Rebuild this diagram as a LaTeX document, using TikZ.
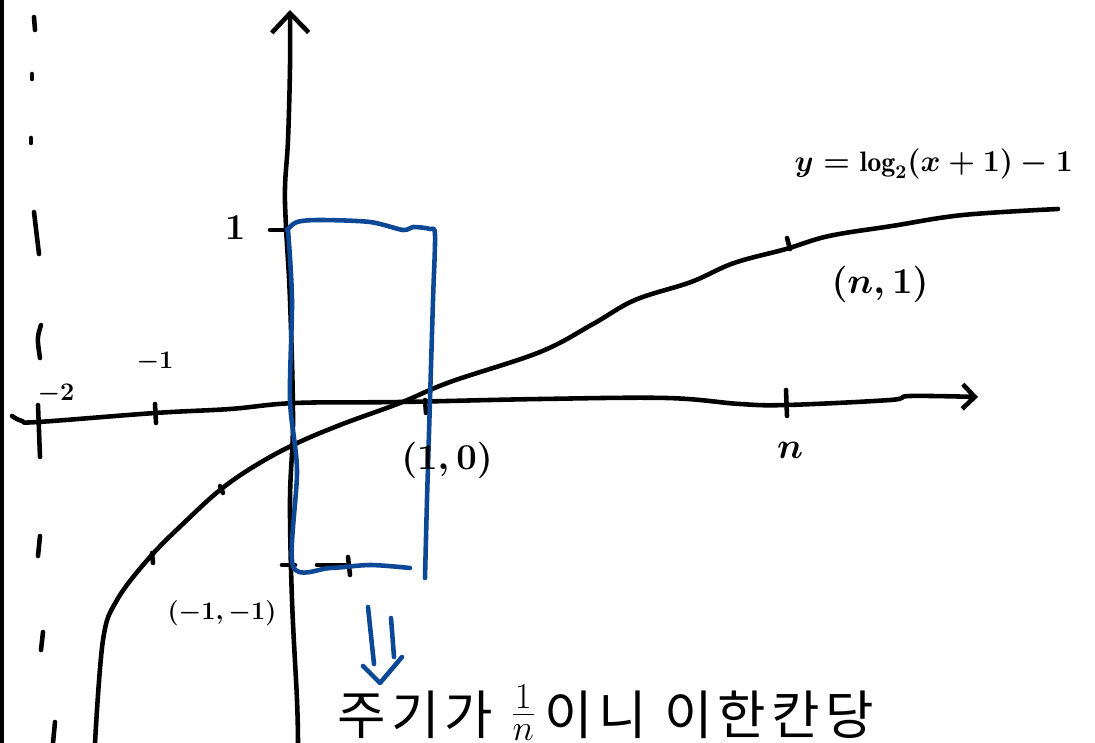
\documentclass[tikz,border=0pt]{standalone}
\usepackage{fontspec}
\newfontfamily\hangul[LetterSpace=10]{Noto Sans CJK KR}
\usetikzlibrary{arrows.meta,positioning}
\definecolor{penblue}{HTML}{0C4896}

\begin{document}
\begin{tikzpicture}[
  x=0.02cm, y=-0.02cm,
  pen/.style={line width=2.6pt, line cap=round, line join=round},
  bluepen/.style={pen, draw=penblue},
  lbl/.style={inner sep=1pt, font=\fontsize{20}{24}\selectfont\boldmath},
  small/.style={inner sep=1pt, font=\fontsize{14}{16}\selectfont\boldmath},
  xarr/.style={pen, -{Straight Barb[length=7pt, width=14pt, line width=2.6pt]}},
  yarr/.style={pen, -{Straight Barb[length=11pt, width=21pt, line width=2.6pt]}}
]
\useasboundingbox (0,0) rectangle (1095,743);
\draw[line width=3pt] (1.5,0) -- (1.5,743);

\draw[pen] (34,17) -- (35,30);
\draw[pen] (32,74) -- (32,79);
\draw[pen] (31,138) -- (31,143);
\draw[pen] (34,212) -- (39,254);
\draw[pen] (41,325) .. controls (37,338) .. (40,358);
\draw[pen] (40,536) -- (38,556);
\draw[pen] (43,632) -- (41,650);
\draw[pen] (55,722) -- (53,743);

\draw[xarr] plot[smooth, tension=0.6] coordinates {(12,416) (22,421) (38,422) (155,413) (230,409) (295,403) (400,402) (540,399) (667,398) (740,404) (787,405) (890,400) (910,396) (978,397)};
\draw[yarr] plot[smooth, tension=0.6] coordinates {(298,743) (297,700) (292,600) (290,500) (293,420) (290,300) (286,227) (285,187) (288,140) (290,67) (290,10)};

\draw[pen] (38,405) -- (40,457);
\draw[pen] (155,404) -- (156,423);
\draw[pen] (425,400) -- (426,413);
\draw[pen] (786,390) -- (787,416);
\draw[pen] (270,230) -- (285,230);
\draw[pen] (282,565) -- (295,565);
\draw[pen] (317,565) -- (345,565);
\draw[pen] (348,557) -- (350,575);

\draw[pen] plot[smooth, tension=0.6] coordinates {(95,743) (103,640) (117,600) (150,557) (187,520) (220,490) (253,467) (293,445) (340,425) (400,403) (450,382) (540,352) (593,324) (635,300) (691,282) (734,263) (786,249) (829,236) (892,226) (963,215) (1058,209)};
\draw[pen] (152,553) -- (153,563);
\draw[pen] (220,486) -- (223,493);
\draw[pen] (787,238) -- (790,249);

\draw[bluepen] plot[smooth, tension=0.5] coordinates {(287,230) (297,222) (320,220) (370,222) (403,230) (413,227) (430,229) (435,235) (433,300) (430,400) (427,500) (425,578)};
\draw[bluepen] plot[smooth, tension=0.5] coordinates {(288,230) (292,300) (290,400) (297,470) (293,566) (330,568) (370,565) (410,568)};

\draw[bluepen] (368,607) -- (374,664);
\draw[bluepen] (391,618) -- (394,657);
\draw[bluepen] (363,666) -- (380,683) -- (402,657);

\node[small] (mtwo) at (56,394) {$-2$};
\node[small] (mone) at (155,362) {$-1$};
\node[lbl] (yone) at (235,228) {$1$};
\node[lbl] (xn) at (790,450) {$n$};
\node[lbl] (pzero) at (447,460) {$(1,0)$};
\node[lbl] (pone) at (880,284) {$(n,1)$};
\node[inner sep=1pt, font=\fontsize{14}{16}\selectfont\boldmath] (pmone) at (222,613) {$(-1,-1)$};
\node[anchor=east, inner sep=1pt, font=\fontsize{16}{19}\selectfont\boldmath] (func) at (1075,164) {$y=\log_2(x+1)-1$};
\node[anchor=base west, inner sep=0pt, font=\hangul\fontsize{30}{34}\selectfont] (note) at (337,734) {주기가 \raisebox{5pt}{$\frac{1}{n}$}\,이니 이한칸당};
\end{tikzpicture}
\end{document}
